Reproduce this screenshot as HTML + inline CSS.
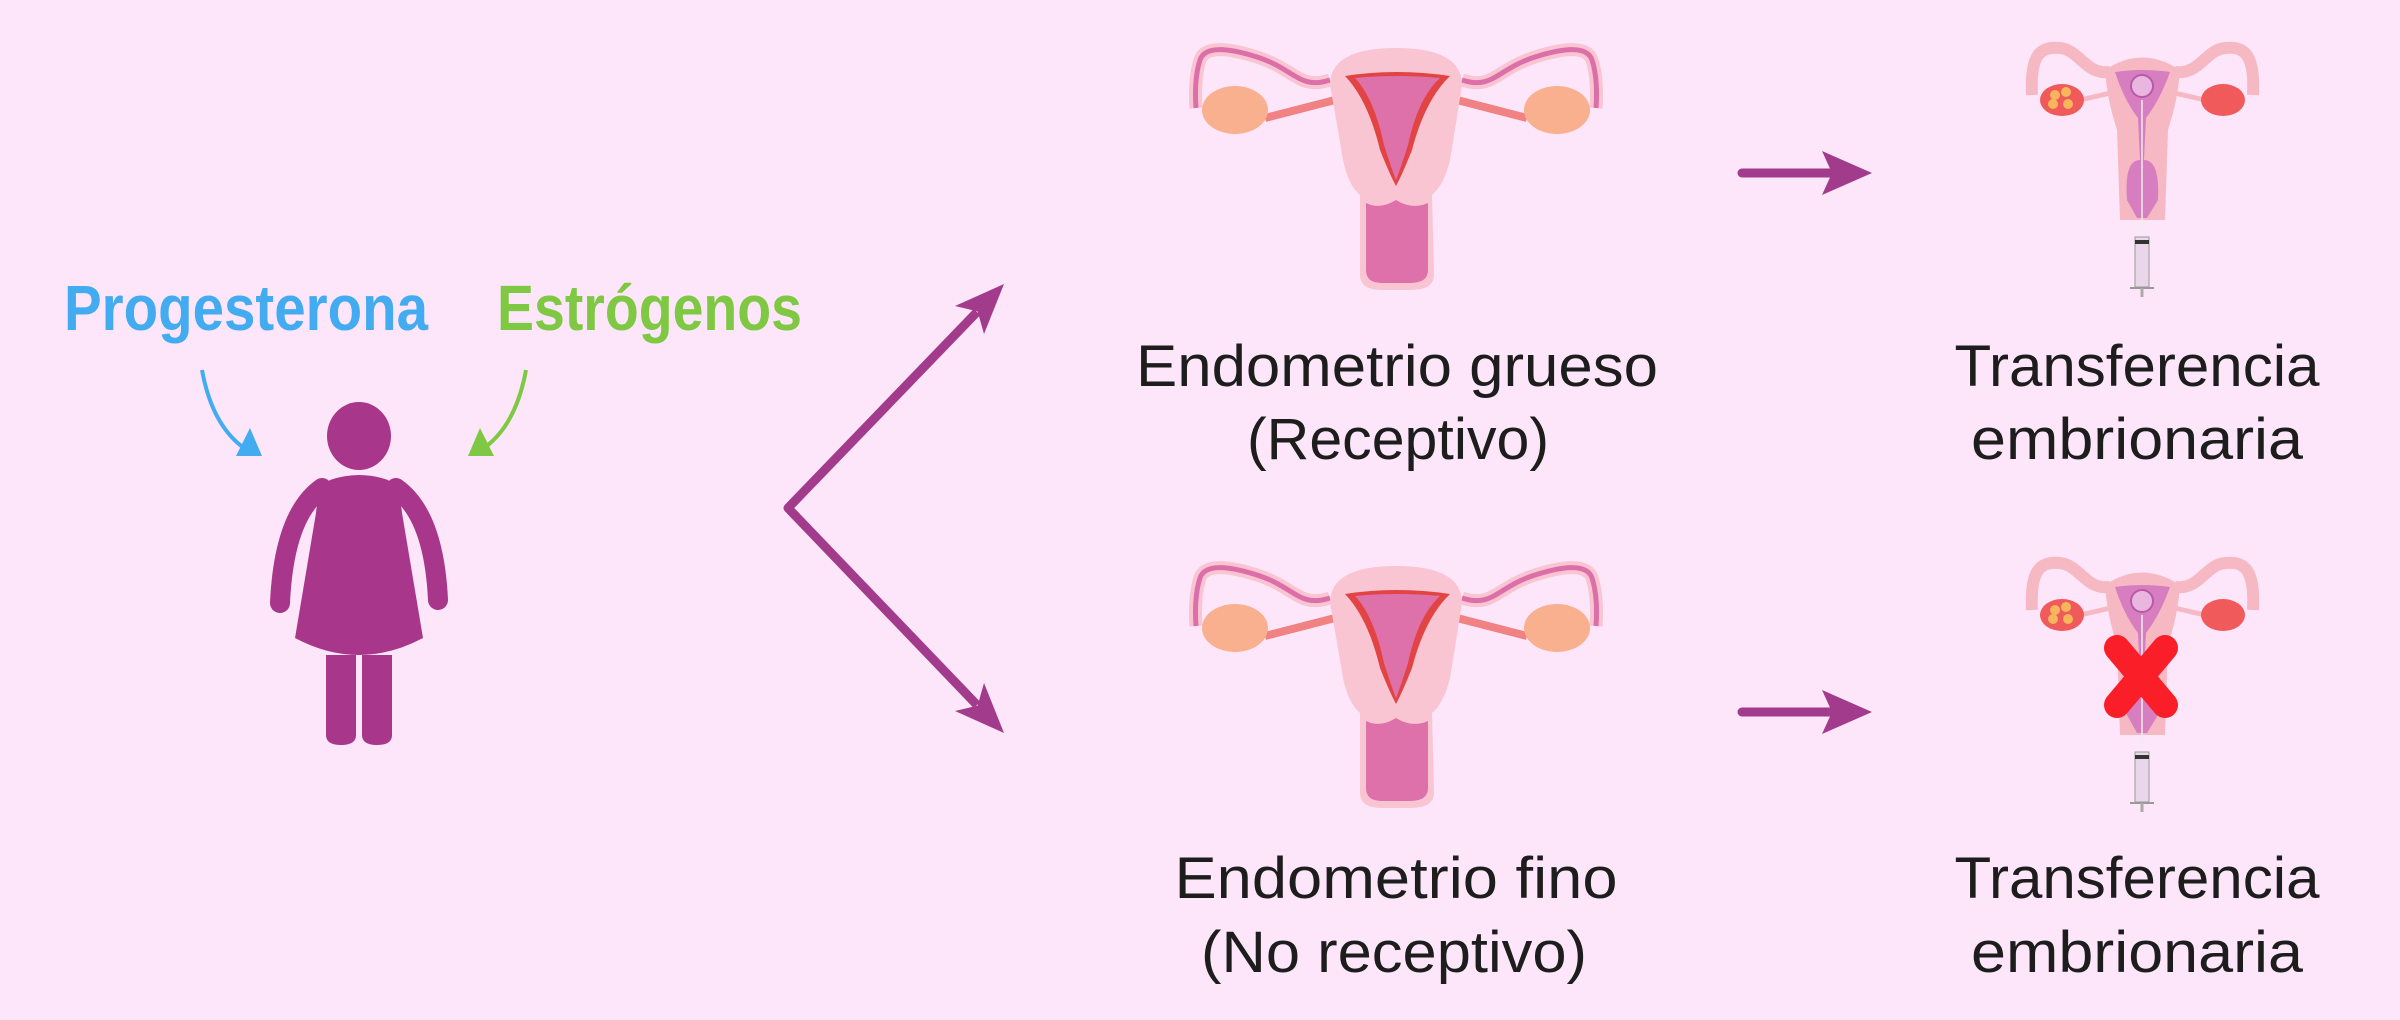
<!DOCTYPE html>
<html><head><meta charset="utf-8"><style>
html,body{margin:0;padding:0;background:#fde6f9;}
svg{display:block}
</style></head><body>
<svg width="2400" height="1020" viewBox="0 0 2400 1020" xmlns="http://www.w3.org/2000/svg">
<defs>
<g id="ut">
<path d="M1330,80 C1300,90 1295,70 1260,58 C1230,48 1205,45 1200,60 C1195,75 1195,95 1196,108" fill="none" stroke="#f9c5d2" stroke-width="13"/>
<path d="M1462,80 C1492,90 1497,70 1532,58 C1562,48 1587,45 1592,60 C1597,75 1597,95 1596,108" fill="none" stroke="#f9c5d2" stroke-width="13"/>
<path d="M1330,80 C1300,90 1295,70 1260,58 C1230,48 1205,45 1200,60 C1195,75 1195,95 1196,108" fill="none" stroke="#dc6fa8" stroke-width="5"/>
<path d="M1462,80 C1492,90 1497,70 1532,58 C1562,48 1587,45 1592,60 C1597,75 1597,95 1596,108" fill="none" stroke="#dc6fa8" stroke-width="5"/>
<path d="M1265,118 L1335,100" stroke="#f08283" stroke-width="8"/>
<path d="M1527,118 L1457,100" stroke="#f08283" stroke-width="8"/>
<ellipse cx="1235" cy="110" rx="33" ry="24" fill="#f8b08e"/>
<ellipse cx="1557" cy="110" rx="33" ry="24" fill="#f8b08e"/>
<path d="M1330,85 Q1330,48 1396,48 Q1462,48 1462,85 Q1455,130 1450,160 Q1444,185 1432,195 L1434,275 Q1434,290 1410,290 L1382,290 Q1360,290 1360,275 L1360,195 Q1348,185 1343,160 Q1338,130 1330,85 Z" fill="#f9c5d2"/>
<path d="M1366,203 Q1380,210 1396,200 Q1412,210 1428,203 L1428,270 Q1428,283 1410,283 L1382,283 Q1366,283 1366,270 Z" fill="#de70aa"/>
<path d="M1345,76 Q1396,68 1450,76 Q1425,100 1412,150 Q1402,175 1396,186 Q1390,175 1380,150 Q1368,100 1345,76 Z" fill="#e24444"/>
<path d="M1355,78 Q1396,74 1440,78 Q1418,98 1408,145 Q1400,170 1396,180 Q1392,170 1384,145 Q1374,98 1355,78 Z" fill="#de70aa"/>
</g>
<g id="tr">
<path d="M2110,72 C2085,75 2080,50 2060,48 C2040,46 2030,55 2032,95" fill="none" stroke="#f6b9c3" stroke-width="12"/>
<path d="M2175,72 C2200,75 2205,50 2225,48 C2245,46 2255,55 2253,95" fill="none" stroke="#f6b9c3" stroke-width="12"/>
<path d="M2080,100 L2115,92 M2205,100 L2170,92" stroke="#f6b9c3" stroke-width="5"/>
<ellipse cx="2062" cy="100" rx="22" ry="16" fill="#f05a5a"/>
<circle cx="2055" cy="95" r="5" fill="#f7b65c"/><circle cx="2066" cy="92" r="5" fill="#f7b65c"/><circle cx="2053" cy="104" r="5" fill="#f7b65c"/><circle cx="2068" cy="104" r="5" fill="#f7b65c"/>
<ellipse cx="2223" cy="100" rx="22" ry="16" fill="#f05a5a"/>
<path d="M2105,70 Q2142,45 2180,70 Q2178,100 2168,130 L2165,220 L2120,220 L2117,130 Q2107,100 2105,70 Z" fill="#f6b9c3"/>
<path d="M2115,72 Q2142,68 2170,72 Q2160,100 2146,118 L2144,160 Q2160,160 2158,200 L2147,218 L2137,218 L2127,200 Q2124,160 2140,160 L2138,118 Q2124,100 2115,72 Z" fill="#d77ec0"/>
<circle cx="2142" cy="86" r="11" fill="#e9b6e0" stroke="#b85aa8" stroke-width="2"/>
<line x1="2142" y1="100" x2="2142" y2="230" stroke="#eee" stroke-width="1.5"/>
<rect x="2135" y="237" width="14" height="50" fill="#e9d6ea" stroke="#999" stroke-width="1"/>
<rect x="2135" y="240" width="14" height="4" fill="#333"/>
<line x1="2130" y1="288" x2="2154" y2="288" stroke="#999" stroke-width="2"/>
<line x1="2142" y1="288" x2="2142" y2="297" stroke="#aaa" stroke-width="3"/>
</g>
</defs>
<rect width="2400" height="1020" fill="#fde6f9"/>

<text x="64" y="330" font-family="Liberation Sans, sans-serif" font-weight="bold" font-size="64" fill="#43abf0" textLength="364" lengthAdjust="spacingAndGlyphs">Progesterona</text>
<text x="497" y="330" font-family="Liberation Sans, sans-serif" font-weight="bold" font-size="64" fill="#7ec843" textLength="305" lengthAdjust="spacingAndGlyphs">Estrógenos</text>

<path d="M202,370 Q212,425 244,448" fill="none" stroke="#43abf0" stroke-width="4"/>
<path d="M236,456 L262,456 L250,428 Z" fill="#43abf0"/>
<path d="M526,370 Q516,425 484,448" fill="none" stroke="#7ec843" stroke-width="4"/>
<path d="M468,456 L494,456 L480,428 Z" fill="#7ec843"/>

<g fill="#a8368a">
<ellipse cx="359" cy="436" rx="32" ry="34"/>
<path d="M330,480 Q359,470 388,480 Q400,490 402,513 L423,638 Q359,672 295,638 L316,513 Q318,490 330,480 Z"/>
<path d="M322,488 Q284,515 280,603" fill="none" stroke="#a8368a" stroke-width="20" stroke-linecap="round"/>
<path d="M396,488 Q434,515 438,600" fill="none" stroke="#a8368a" stroke-width="20" stroke-linecap="round"/>
<path d="M326,655 L356,655 L356,735 Q356,745 341,745 Q326,745 326,735 Z"/>
<path d="M362,655 L392,655 L392,735 Q392,745 377,745 Q362,745 362,735 Z"/>
</g>

<polyline points="977,312 788,508 977,705" fill="none" stroke="#a23b8c" stroke-width="9" stroke-linejoin="round"/>
<path d="M1004,284 L955,306 L977.6,311.4 L984,334 Z" fill="#a23b8c"/>
<path d="M1004,733 L984,683 L977.6,705.6 L955,711 Z" fill="#a23b8c"/>

<use href="#ut"/>
<use href="#ut" transform="translate(0,518)"/>
<use href="#tr"/>
<use href="#tr" transform="translate(0,515)"/>

<g stroke="#fa1e28" stroke-width="26" stroke-linecap="round">
<line x1="2117" y1="648" x2="2165" y2="705"/>
<line x1="2165" y1="648" x2="2117" y2="705"/>
</g>

<line x1="1742" y1="173" x2="1835" y2="173" stroke="#a23b8c" stroke-width="9" stroke-linecap="round"/>
<path d="M1872,173 L1822,151 L1832,173 L1822,195 Z" fill="#a23b8c"/>
<line x1="1742" y1="712" x2="1835" y2="712" stroke="#a23b8c" stroke-width="9" stroke-linecap="round"/>
<path d="M1872,712 L1822,690 L1832,712 L1822,734 Z" fill="#a23b8c"/>

<g font-family="Liberation Sans, sans-serif" font-size="58" fill="#1d1d1d" text-anchor="middle">
<text x="1397" y="386" textLength="522" lengthAdjust="spacingAndGlyphs">Endometrio grueso</text>
<text x="1398" y="459" textLength="302" lengthAdjust="spacingAndGlyphs">(Receptivo)</text>
<text x="1396" y="898" textLength="443" lengthAdjust="spacingAndGlyphs">Endometrio fino</text>
<text x="1394" y="972" textLength="386" lengthAdjust="spacingAndGlyphs">(No receptivo)</text>
<text x="2137" y="386" textLength="365" lengthAdjust="spacingAndGlyphs">Transferencia</text>
<text x="2137" y="459" textLength="332" lengthAdjust="spacingAndGlyphs">embrionaria</text>
<text x="2137" y="898" textLength="365" lengthAdjust="spacingAndGlyphs">Transferencia</text>
<text x="2137" y="972" textLength="332" lengthAdjust="spacingAndGlyphs">embrionaria</text>
</g>
</svg>
</body></html>
